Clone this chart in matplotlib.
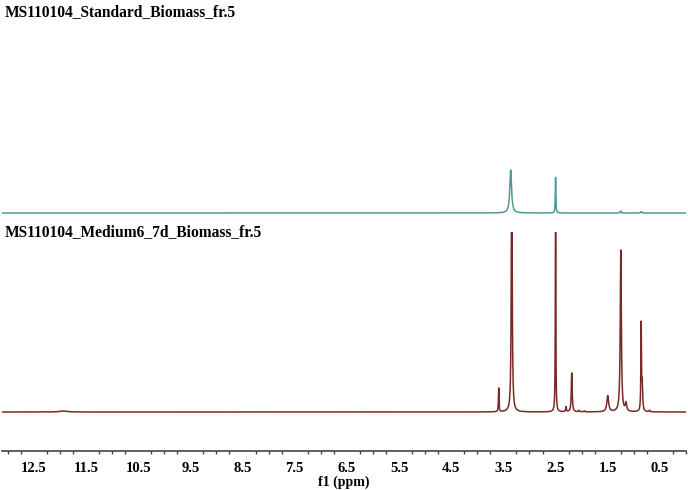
import numpy as np
import matplotlib.pyplot as plt

# peak tables (ppm, height in px, half width in ppm)
top_ppm = [3.36, 2.50, 1.25, 0.86]
top_height = [43, 36, 2.0, 1.5]
top_width = [0.02, 0.006, 0.01, 0.01]

bot_ppm = [11.94, 3.59, 3.34, 2.50, 2.30, 2.19, 1.50, 1.25, 1.15, 0.86, 0.84, 0.70, 2.05, 1.95]
bot_height = [1.0, 24, 300, 240, 5, 39, 16, 162, 8, 86, 27, 1.5, 1.5, 1.0]
bot_width = [0.08, 0.006, 0.009, 0.005, 0.008, 0.01, 0.02, 0.012, 0.015, 0.006, 0.01, 0.01, 0.01, 0.01]

title_top = 'MS110104_Standard_Biomass_fr.5'
title_bot = 'MS110104_Medium6_7d_Biomass_fr.5'
tick_vals = [12.5, 11.5, 10.5, 9.5, 8.5, 7.5, 6.5, 5.5, 4.5, 3.5, 2.5, 1.5, 0.5]

ppm = np.linspace(13.11, 0.0, 8000)


def spectrum(pos, h, w):
    s = np.zeros_like(ppm)
    for p, a, g in zip(pos, h, w):
        s += a * g**2 / ((ppm - p)**2 + g**2)
    return s


plt.rcParams['font.family'] = ['Liberation Serif', 'DejaVu Serif']
fig = plt.figure(figsize=(6.88, 4.90), dpi=100)
W, H = 688, 490

# top spectrum
ax1 = fig.add_axes([2 / W, 1 - 216 / H, 684 / W, 190 / H])
ax1.plot(ppm, spectrum(top_ppm, top_height, top_width), color='#4f9a98', lw=1.1)
ax1.set_xlim(13.11, 0.0)
ax1.set_ylim(-3, 187)
ax1.axis('off')

# bottom spectrum with the axis
ax2 = fig.add_axes([2 / W, 1 - 451 / H, 684 / W, (451 - 232) / H])
ax2.plot(ppm, spectrum(bot_ppm, bot_height, bot_width), color='#7a2a24', lw=1.1)
ax2.set_xlim(13.11, 0.0)
ax2.set_ylim(-39, 180)
for s in ['top', 'left', 'right']:
    ax2.spines[s].set_visible(False)
ax2.spines['bottom'].set_color('#444444')
ax2.spines['bottom'].set_linewidth(1.2)
ax2.set_yticks([])
ax2.set_xticks(tick_vals)
ax2.set_xticklabels([str(t) for t in tick_vals], fontsize=10.5, fontweight='bold')
ax2.set_xticks(np.arange(13.0, -0.01, -0.25), minor=True)
ax2.tick_params(axis='x', which='major', length=0, pad=8)
ax2.tick_params(axis='x', which='minor', length=2.5, width=1, color='#444444')
ax2.set_xlabel('f1 (ppm)', fontsize=10, fontweight='bold', labelpad=0)

fig.text(5 / W, 1 - 12 / H, title_top, fontsize=11.2, fontweight='bold', va='center', ha='left')
fig.text(5 / W, 1 - 232 / H, title_bot, fontsize=11.2, fontweight='bold', va='center', ha='left')

fig.savefig('out.png', dpi=100)
